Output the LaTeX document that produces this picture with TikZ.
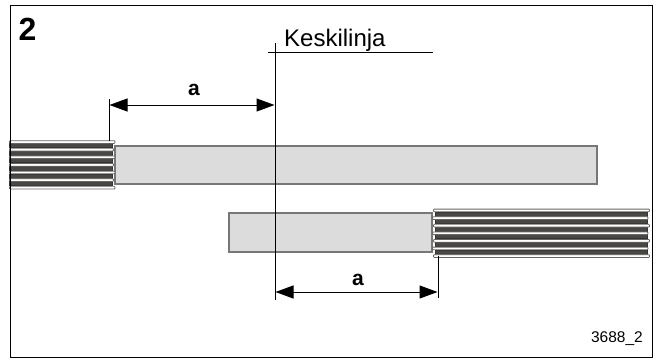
\documentclass[tikz,border=0pt]{standalone}
\usepackage{fontspec}
\setmainfont{Liberation Sans}
\usetikzlibrary{arrows.meta}
\definecolor{barfill}{HTML}{DCDCDC}
\definecolor{barline}{HTML}{777777}
\definecolor{platedark}{HTML}{4A4743}
\tikzset{
  barbox/.style={draw=barline, line width=1.1pt, fill=barfill},
  plate/.style={draw=black!80, line width=0.6pt, fill=platedark},
  lining/.style={draw=black!60, line width=0.8pt, fill=white, rounded corners=0.8pt},
  thin line/.style={line width=1pt},
  dim line/.style={line width=1pt, {Triangle[length=18pt,width=13pt]}-{Triangle[length=18pt,width=13pt]}, shorten <=0.5pt, shorten >=0.5pt},
  dim label/.style={font=\fontsize{21}{21}\selectfont\bfseries, inner sep=0pt}
}
\begin{document}
\begin{tikzpicture}[x=1pt,y=-1pt]
\useasboundingbox (0,0) rectangle (656,362);
% grey bars
\draw[barbox] (115,146) rectangle (597,184);
\draw[barbox] (229,213) rectangle (432,252);
% left pack
\foreach \i in {0,...,5}
    \draw[plate] (9.5,{143.4+7.6*\i}) rectangle (112,{147.4+7.6*\i});
\foreach \i/\xend in {0/115,1/113.5,2/115,3/113.5,4/115,5/113.5,6/115}
    \draw[lining] (9.5,{140.7+7.6*\i}) rectangle (\xend,{143.4+7.6*\i});
% right pack
\foreach \i in {0,...,5}
    \draw[plate] (435,{211.8+7.6*\i}) rectangle (647,{215.8+7.6*\i});
\foreach \i/\xa/\xb in {0/433.5/649.5,1/432.5/648,2/433.5/649.5,3/432.5/648,4/433.5/649.5,5/432.5/648,6/433.5/649.5}
    \draw[lining] (\xa,{209.1+7.6*\i}) rectangle (\xb,{211.8+7.6*\i});
\node[draw=black, line width=1.1pt, minimum width=642pt, minimum height=352pt, inner sep=0pt, anchor=north west] (frame) at (9.5,4.5) {};
\node[font=\fontsize{32}{32}\selectfont\bfseries, inner sep=0pt] (fig) at (27.5,29.5) {2};
\node[font=\fontsize{15.5}{16}\selectfont, inner sep=0pt, anchor=east] (code) at (643,339) {3688\_2};
\node[font=\fontsize{24}{24}\selectfont, inner sep=0pt, anchor=base west] (title) at (284,46) {Keskilinja};
% centre line
\coordinate (ctop) at (275,43);
\coordinate (cbot) at (275,300);
\coordinate (hleft) at (268,52);
\coordinate (hright) at (433,52);
\draw[thin line] (ctop) -- (cbot);
\draw[thin line] (hleft) -- (hright);
% dimension a
\coordinate (ltop) at (109,99);
\coordinate (lbot) at (109,141);
\coordinate (rtop) at (438,256);
\coordinate (rbot) at (438,298);
\draw[thin line] (ltop) -- (lbot);
\draw[thin line] (rtop) -- (rbot);
\coordinate (da1) at (109,105);
\coordinate (da2) at (275,105);
\coordinate (db1) at (275,292);
\coordinate (db2) at (438,292);
\draw[dim line] (da1) -- (da2);
\draw[dim line] (db1) -- (db2);
\node[dim label] (alabel) at (194,90) {a};
\node[dim label] (blabel) at (358,280) {a};
\end{tikzpicture}
\end{document}
